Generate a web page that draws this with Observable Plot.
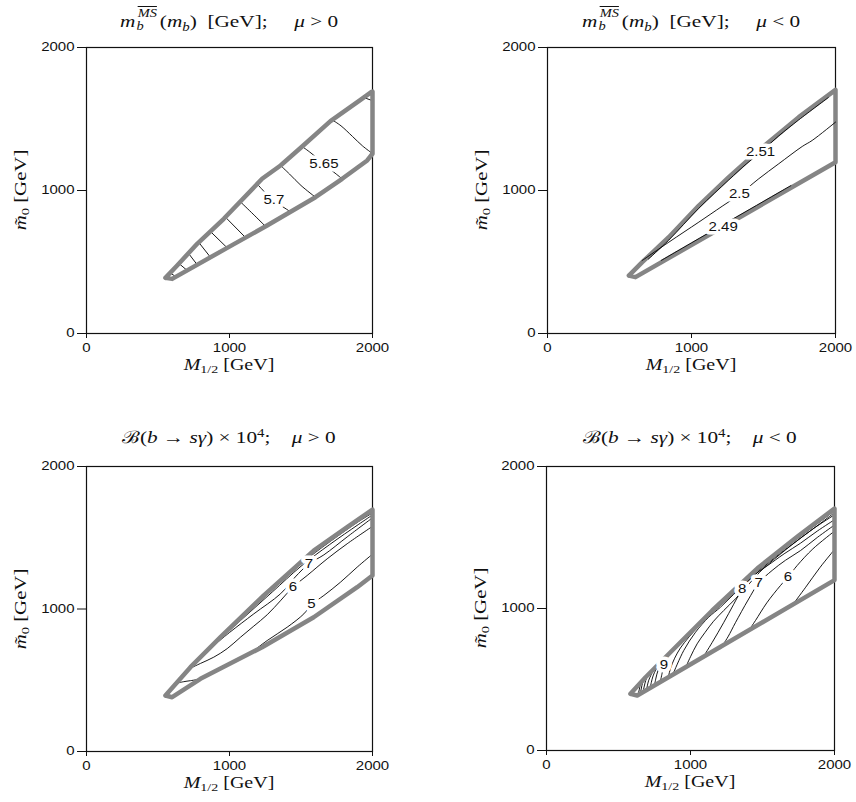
<!DOCTYPE html>
<html><head><meta charset="utf-8">
<script src="https://cdn.jsdelivr.net/npm/d3@7"></script>
<script src="https://cdn.jsdelivr.net/npm/@observablehq/plot@0.6"></script>
<style>
body{margin:0;background:#fff;}
#root{position:relative;width:856px;height:802px;overflow:hidden;background:#fff}
.panel{position:absolute}
.tx{position:absolute;font-family:"Liberation Serif","DejaVu Serif",serif;font-size:16px;white-space:nowrap;color:#111;line-height:1}
.tx.big{font-size:17px}
.tx i{font-style:italic}
.tx sub{font-size:0.7em;vertical-align:-0.3em;line-height:0}
.tx sup{font-size:0.7em;vertical-align:0.5em;line-height:0}
.ss{display:inline-block;position:relative;width:1.1em;height:1em;margin-left:1px}
.ss .up{position:absolute;left:0.08em;top:-0.15em;font-size:0.68em;line-height:1;text-decoration:overline}
.ss .dn{position:absolute;left:0;top:0.92em;font-size:0.68em;line-height:1}
</style>
</head><body><div id="root"></div>
<script>
// ---------- axis ticks ----------
const xTicks = [0, 1000, 2000];
const yTicks = [0, 1000, 2000];

// ---------- panel 1: m_b(MS), mu > 0 ----------
const mbPosBoundary = [[552,389],[634,476],[774,627],[960,802],[1228,1082],[1357,1175],[1508,1308],[1706,1485],[1916,1634],[1991,1688],[2000,1692],[2000,1257],[1963,1210],[1788,1082],[1601,953],[1263,755],[984,599],[599,382],[552,389]];
const mbPosContours = [
  [[585,424],[625,397]],
  [[646,490],[704,441]],
  [[716,557],[774,481]],
  [[786,636],[867,533]],
  [[867,713],[984,599]],
  [[972,813],[1112,671]],
  [[1077,920],[1165,835],[1252,749]],
  [[1194,1045],[1250,985],[1310,930],[1427,851]],
  [[1357,1175],[1420,1115],[1500,1035],[1601,953]],
  [[1508,1308],[1570,1262],[1660,1187],[1730,1128],[1788,1082]],
  [[1718,1494],[1780,1452],[1860,1378],[1930,1312],[1995,1262]],
  [[1939,1650],[1998,1629]]
];
const mbPosLabels = [[1310,930,"5.7"],[1660,1187,"5.65"]];

// ---------- panel 2: m_b(MS), mu < 0 ----------
const mbNegBoundary = [[565,405],[658,499],[842,673],[1051,895],[1259,1093],[1467,1280],[1745,1513],[2000,1704],[2000,1198],[611,394],[565,405]];
const mbNegContours = [
  [[657,510],[843,639],[1051,779],[1213,890],[1333,972],[1467,1082],[1606,1187],[1769,1308],[1838,1350],[2000,1478]],
  [[700,520],[842,653],[1051,876],[1259,1074],[1380,1185],[1479,1268],[1606,1382],[1745,1494],[1950,1650]],
  [[790,511],[1000,634],[1220,762],[1400,866],[1600,982],[1690,1034]]
];
const mbNegLabels = [[1479,1268,"2.51"],[1333,972,"2.5"],[1220,744,"2.49"]];

// ---------- panel 3: B(b->s gamma), mu > 0 ----------
const bsgPosBoundary = [[552,393],[727,592],[937,802],[1240,1095],[1589,1410],[1823,1574],[1998,1696],[2000,1697],[2000,1235],[1893,1153],[1589,942],[1228,732],[797,510],[599,381],[552,393]];
const bsgPosContours = [
  [[634,480],[680,490],[727,497],[797,508]],
  [[1147,690],[1264,779],[1403,872],[1520,966],[1573,1032],[1660,1095],[1776,1188],[1893,1294],[2000,1385]],
  [[727,585],[797,618],[890,662],[984,722],[1077,802],[1170,880],[1264,960],[1360,1062],[1443,1153],[1543,1235],[1683,1352],[1823,1458],[2000,1580]],
  [[890,744],[1000,835],[1170,966],[1357,1107],[1460,1225],[1555,1317],[1660,1380],[1823,1506],[2000,1640]],
  [[930,785],[1100,940],[1300,1120],[1500,1300],[1700,1452],[1900,1592],[2000,1660]],
  [[1150,995],[1350,1180],[1550,1357],[1750,1507],[1900,1612],[2000,1674]]
];
const bsgPosLabels = [[1573,1032,"5"],[1443,1153,"6"],[1555,1317,"7"]];

// ---------- panel 4: B(b->s gamma), mu < 0 ----------
const bsgNegBoundary = [[583,399],[688,516],[873,704],[1151,986],[1474,1291],[1752,1514],[2000,1704],[2000,1200],[630,387],[583,399]];
const bsgNegContours = [
  [[1706,1021],[1800,1150],[1900,1290],[2000,1415]],
  [[1405,845],[1451,915],[1530,1040],[1625,1162],[1676,1220],[1741,1303],[1850,1420],[2000,1545]],
  [[1208,716],[1260,800],[1312,900],[1400,1060],[1474,1180],[1567,1268],[1660,1340],[1764,1408],[1880,1500],[2000,1588]],
  [[1081,646],[1150,760],[1230,900],[1300,1030],[1359,1139],[1394,1190],[1460,1250],[1532,1300],[1650,1385],[1764,1460],[1880,1545],[2000,1625]],
  [[965,582],[1000,660],[1046,751],[1100,830],[1160,910],[1231,986],[1312,1068],[1400,1165],[1480,1255],[1550,1320],[1700,1445],[1850,1560],[2000,1660]],
  [[884,551],[953,704],[1035,833],[1127,939],[1208,1009],[1300,1100],[1400,1192],[1500,1285],[1600,1370],[1750,1485],[1900,1598],[2000,1675]],
  [[845,514],[862,580],[890,650],[930,722],[990,800],[1060,878],[1150,968],[1250,1060],[1400,1205],[1600,1380],[1800,1535],[2000,1688]],
  [[790,482],[803,545],[815,599],[835,645],[865,690],[910,732],[960,782]],
  [[750,458],[760,510],[775,565],[800,615],[830,655]],
  [[720,440],[728,480],[740,525],[760,570],[780,603]],
  [[695,426],[700,455],[710,495],[725,530],[740,563]],
  [[672,412],[676,440],[684,475],[695,510],[705,528]],
  [[652,400],[656,425],[662,455],[670,485],[676,498]],
  [[637,391],[640,410],[645,432],[650,458]]
];
const bsgNegLabels = [[815,599,"9"],[1359,1139,"8"],[1474,1180,"7"],[1676,1220,"6"]];

// ---------- titles ----------
const titleMb = (sign) => `<i>m</i><span class="ss"><span class="up"><i>MS</i></span><span class="dn"><i>b</i></span></span>(<i>m</i><sub><i>b</i></sub>)&nbsp;&nbsp;[GeV];&nbsp;&nbsp;&nbsp;&nbsp;&nbsp;<i>μ</i> ${sign} 0`;
const titleBsg = (sign) => `ℬ(<i>b</i> → <i>sγ</i>) × 10<sup>4</sup>;&nbsp;&nbsp;&nbsp;&nbsp;<i>μ</i> ${sign} 0`;

const panels = [
  {fx:86, fy:47, fw:286, fh:286, boundary:mbPosBoundary, contours:mbPosContours, labels:mbPosLabels, title:titleMb("&gt;")},
  {fx:547, fy:47, fw:288, fh:286, boundary:mbNegBoundary, contours:mbNegContours, labels:mbNegLabels, title:titleMb("&lt;"), onTop:true},
  {fx:86, fy:466, fw:286, fh:285, boundary:bsgPosBoundary, contours:bsgPosContours, labels:bsgPosLabels, title:titleBsg("&gt;")},
  {fx:546, fy:466, fw:288, fh:284, boundary:bsgNegBoundary, contours:bsgNegContours, labels:bsgNegLabels, title:titleBsg("&lt;")}
];

const root = document.getElementById("root");
const mL = 50, mT = 10, mR = 22, mB = 30;
const fmt = d3.format("d");
const SX = 1.25;

panels.forEach(p => {
  const rows = [];
  p.contours.forEach((pts, i) => pts.forEach(q => rows.push({id: i, x: q[0], y: q[1]})));
  const lab = p.labels.map(d => ({x: d[0], y: d[1], t: d[2]}));
  const bnd = p.boundary.map(d => ({x: d[0], y: d[1]}));
  const contourMark = Plot.line(rows, {x: "x", y: "y", z: "id", stroke: "black", strokeWidth: 0.9, curve: "catmull-rom"});
  const boundMark = Plot.line(bnd, {x: "x", y: "y", stroke: "#858585", strokeWidth: 4.5, strokeLinejoin: "round", strokeLinecap: "round"});
  const chart = Plot.plot({
    width: mL + p.fw + mR, height: mT + p.fh + mB,
    marginLeft: mL, marginTop: mT, marginRight: mR, marginBottom: mB,
    x: {domain: [0, 2000]}, y: {domain: [0, 2000]},
    style: {fontFamily: "'Liberation Sans', Arial, Helvetica, sans-serif", fontSize: "12px", background: "transparent", color: "#111", overflow: "visible"},
    marks: [
      Plot.frame({stroke: "#111", strokeWidth: 1.2}),
      Plot.axisX(xTicks, {tickSize: 5, tickPadding: 5, tickFormat: fmt, label: null, fontSize: 12}),
      Plot.axisY(yTicks, {tickSize: 9, tickPadding: 3, tickFormat: fmt, label: null, fontSize: 12}),
      ...(p.onTop ? [boundMark, contourMark] : [contourMark, boundMark]),
      Plot.text(lab, {x: "x", y: "y", text: "t", fill: "#111", stroke: "white", strokeWidth: 7, fontSize: 12})
    ]
  });
  chart.classList.add("panel");
  chart.style.left = (p.fx - mL) + "px";
  chart.style.top = (p.fy - mT) + "px";
  root.appendChild(chart);
  // horizontal stretch of the tick and contour-label glyphs (the reference glyphs are wide)
  chart.querySelectorAll("text").forEach(t => {
    const w = t.getComputedTextLength();
    if (w > 0) {
      t.setAttribute("textLength", (w * SX).toFixed(2));
      t.setAttribute("lengthAdjust", "spacingAndGlyphs");
    }
  });

  const cx = p.fx + p.fw / 2;
  const title = document.createElement("div");
  title.className = "tx big";
  title.innerHTML = p.title;
  title.style.left = cx + "px";
  title.style.top = (p.fy - 37) + "px";
  title.style.transform = `translateX(-50%) scaleX(${SX})`;
  root.appendChild(title);

  const xl = document.createElement("div");
  xl.className = "tx";
  xl.innerHTML = `<i>M</i><sub>1/2</sub> [GeV]`;
  xl.style.left = cx + "px";
  xl.style.top = (p.fy + p.fh + 24) + "px";
  xl.style.transform = `translateX(-50%) scaleX(${SX})`;
  root.appendChild(xl);

  const yl = document.createElement("div");
  yl.className = "tx";
  yl.innerHTML = `<i>m̃</i><sub>0</sub> [GeV]`;
  yl.style.left = (p.fx - 65) + "px";
  yl.style.top = (p.fy + p.fh / 2) + "px";
  yl.style.transform = "translate(-50%,-50%) rotate(-90deg) scaleX(1.3)";
  root.appendChild(yl);
});
</script>
</body></html>
